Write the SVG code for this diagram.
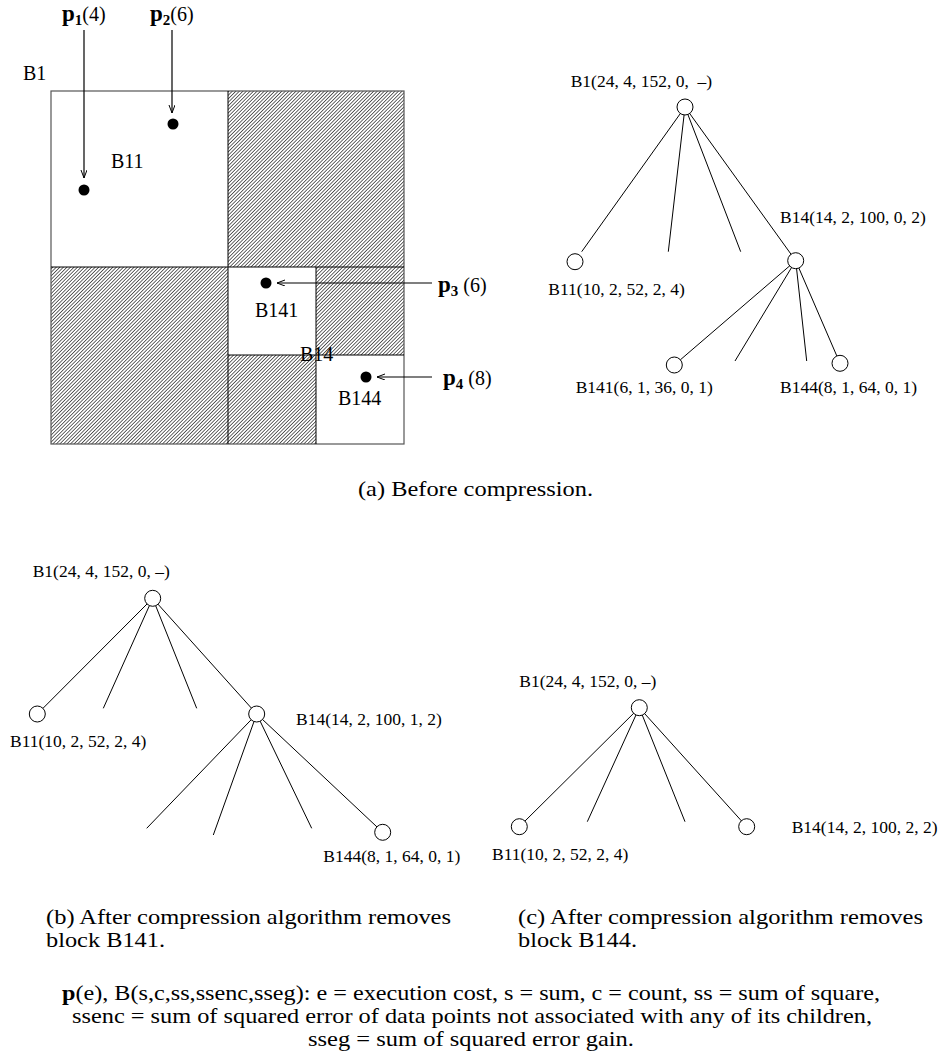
<svg xmlns="http://www.w3.org/2000/svg" width="941" height="1063" viewBox="0 0 941 1063">
<defs>
<pattern id="hatch" patternUnits="userSpaceOnUse" width="2.5" height="10" patternTransform="rotate(45)">
<rect width="2.5" height="10" fill="#fff"/>
<line x1="1.25" y1="0" x2="1.25" y2="10" stroke="#4a4a4a" stroke-width="0.85"/>
</pattern>
<marker id="arr" markerUnits="userSpaceOnUse" markerWidth="10" markerHeight="8" refX="8" refY="3" orient="auto">
<path d="M0,0 L8,3 L0,6" fill="none" stroke="#000" stroke-width="1"/>
</marker>
</defs>
<style>
.lbl{font-family:"Liberation Serif","Times New Roman",serif;font-size:20px;fill:#000}
.tl{font-family:"Liberation Serif","Times New Roman",serif;font-size:17.5px;fill:#000}
.cap{font-family:"Liberation Serif","Times New Roman",serif;font-size:21px;fill:#000}
.edge{stroke:#000;stroke-width:1;fill:none}
.node{stroke:#000;stroke-width:1;fill:#fff}
.arrow{stroke:#000;stroke-width:1.2;fill:none;marker-end:url(#arr)}
.dot{fill:#000}
.hat{fill:url(#hatch);stroke:none}
.grid{stroke:#000;stroke-width:1;fill:none}
</style>
<rect width="941" height="1063" fill="#fff"/>

<!-- (a) spatial decomposition -->
<g id="grid">
<rect class="hat" x="228" y="91" width="176" height="176"/>
<rect class="hat" x="51" y="267" width="177" height="177"/>
<rect class="hat" x="316" y="267" width="88" height="88"/>
<rect class="hat" x="228" y="355" width="88" height="89"/>
<rect x="51" y="91" width="353" height="353" fill="none" stroke="#555" stroke-width="1.2"/>
<line class="grid" x1="228" y1="91" x2="228" y2="444"/>
<line class="grid" x1="51" y1="267" x2="404" y2="267"/>
<line class="grid" x1="316" y1="267" x2="316" y2="444"/>
<line class="grid" x1="228" y1="355" x2="404" y2="355"/>
</g>
<g id="block-B1"><text class="lbl" x="23" y="80">B1</text></g>
<g id="block-B11"><text class="lbl" x="111" y="168">B11</text></g>
<g id="block-B141"><text class="lbl" x="255" y="317">B141</text></g>
<g id="block-B14"><text class="lbl" x="300" y="361">B14</text></g>
<g id="block-B144"><text class="lbl" x="338" y="405">B144</text></g>

<g id="point-p1">
<circle class="dot" cx="84" cy="190" r="5.5"/>
<text class="lbl" x="62" y="21"><tspan font-weight="bold" font-size="23">p</tspan><tspan font-weight="bold" font-size="15" dy="4">1</tspan><tspan dy="-4">(4)</tspan></text>
</g>
<g id="point-p2">
<circle class="dot" cx="173" cy="124" r="5.5"/>
<text class="lbl" x="150" y="21"><tspan font-weight="bold" font-size="23">p</tspan><tspan font-weight="bold" font-size="15" dy="4">2</tspan><tspan dy="-4">(6)</tspan></text>
</g>
<g id="point-p3">
<circle class="dot" cx="266" cy="283" r="5.5"/>
<text class="lbl" x="438" y="292"><tspan font-weight="bold" font-size="23">p</tspan><tspan font-weight="bold" font-size="15" dy="4">3</tspan><tspan dy="-4"> (6)</tspan></text>
</g>
<g id="point-p4">
<circle class="dot" cx="366" cy="377" r="5.5"/>
<text class="lbl" x="443" y="385"><tspan font-weight="bold" font-size="23">p</tspan><tspan font-weight="bold" font-size="15" dy="4">4</tspan><tspan dy="-4"> (8)</tspan></text>
</g>

<g id="connectors">
<line class="arrow" x1="84" y1="30" x2="84" y2="178"/>
<line class="arrow" x1="172" y1="30" x2="172" y2="113"/>
<line class="arrow" x1="432" y1="283" x2="277" y2="283"/>
<line class="arrow" x1="432" y1="377" x2="377" y2="377"/>
<!-- tree a -->
<line class="edge" x1="685" y1="107" x2="581.7" y2="251.7"/>
<line class="edge" x1="685" y1="107" x2="668.3" y2="251.7"/>
<line class="edge" x1="685" y1="107" x2="740.7" y2="251.7"/>
<line class="edge" x1="685" y1="107" x2="795.7" y2="260.7"/>
<line class="edge" x1="795.7" y1="260.7" x2="674.3" y2="365"/>
<line class="edge" x1="795.7" y1="260.7" x2="735" y2="361"/>
<line class="edge" x1="795.7" y1="260.7" x2="806.7" y2="361"/>
<line class="edge" x1="795.7" y1="260.7" x2="840" y2="363.3"/>
<!-- tree b -->
<line class="edge" x1="152.7" y1="598.3" x2="37.3" y2="714"/>
<line class="edge" x1="152.7" y1="598.3" x2="103.3" y2="708.3"/>
<line class="edge" x1="152.7" y1="598.3" x2="196.7" y2="708.3"/>
<line class="edge" x1="152.7" y1="598.3" x2="256.7" y2="714"/>
<line class="edge" x1="256.7" y1="714" x2="146.7" y2="828.3"/>
<line class="edge" x1="256.7" y1="714" x2="213.3" y2="835"/>
<line class="edge" x1="256.7" y1="714" x2="311.7" y2="828.3"/>
<line class="edge" x1="256.7" y1="714" x2="382.7" y2="832.3"/>
<!-- tree c -->
<line class="edge" x1="639.3" y1="707.7" x2="519.3" y2="826.7"/>
<line class="edge" x1="639.3" y1="707.7" x2="587.3" y2="821.7"/>
<line class="edge" x1="639.3" y1="707.7" x2="685" y2="821.7"/>
<line class="edge" x1="639.3" y1="707.7" x2="746.7" y2="826.7"/>
</g>

<!-- tree a nodes -->
<g id="a-B1"><circle class="node" cx="685" cy="107" r="8"/><text class="tl" x="570.7" y="86.7" xml:space="preserve">B1(24, 4, 152, 0,  –)</text></g>
<g id="a-B11"><circle class="node" cx="575" cy="261.7" r="8"/><text class="tl" x="548.3" y="295">B11(10, 2, 52, 2, 4)</text></g>
<g id="a-B14"><circle class="node" cx="795.7" cy="260.7" r="8"/><text class="tl" x="780" y="223.3">B14(14, 2, 100, 0, 2)</text></g>
<g id="a-B141"><circle class="node" cx="674.3" cy="365" r="8"/><text class="tl" x="575.7" y="393.3">B141(6, 1, 36, 0, 1)</text></g>
<g id="a-B144"><circle class="node" cx="840" cy="363.3" r="8"/><text class="tl" x="780" y="393.3">B144(8, 1, 64, 0, 1)</text></g>

<!-- tree b nodes -->
<g id="b-B1"><circle class="node" cx="152.7" cy="598.3" r="8"/><text class="tl" x="32.7" y="577.3">B1(24, 4, 152, 0, –)</text></g>
<g id="b-B11"><circle class="node" cx="37.3" cy="714" r="8"/><text class="tl" x="10" y="746.7">B11(10, 2, 52, 2, 4)</text></g>
<g id="b-B14"><circle class="node" cx="256.7" cy="714" r="8"/><text class="tl" x="296" y="725">B14(14, 2, 100, 1, 2)</text></g>
<g id="b-B144"><circle class="node" cx="382.7" cy="832.3" r="8"/><text class="tl" x="323.3" y="861.7">B144(8, 1, 64, 0, 1)</text></g>

<!-- tree c nodes -->
<g id="c-B1"><circle class="node" cx="639.3" cy="707.7" r="8"/><text class="tl" x="519.3" y="686.7">B1(24, 4, 152, 0, –)</text></g>
<g id="c-B11"><circle class="node" cx="519.3" cy="826.7" r="8"/><text class="tl" x="492" y="860">B11(10, 2, 52, 2, 4)</text></g>
<g id="c-B14"><circle class="node" cx="746.7" cy="826.7" r="8"/><text class="tl" x="791.7" y="832.7">B14(14, 2, 100, 2, 2)</text></g>

<!-- captions -->
<g id="captions">
<text class="cap" x="358" y="496" textLength="235" lengthAdjust="spacingAndGlyphs">(a) Before compression.</text>
<text class="cap" x="46" y="924" textLength="405" lengthAdjust="spacingAndGlyphs">(b) After compression algorithm removes</text>
<text class="cap" x="46" y="947" textLength="119" lengthAdjust="spacingAndGlyphs">block B141.</text>
<text class="cap" x="518" y="924" textLength="405" lengthAdjust="spacingAndGlyphs">(c) After compression algorithm removes</text>
<text class="cap" x="518" y="947" textLength="119" lengthAdjust="spacingAndGlyphs">block B144.</text>
<text class="cap" x="62" y="1000" textLength="818" lengthAdjust="spacingAndGlyphs"><tspan font-weight="bold">p</tspan>(e), B(s,c,ss,ssenc,sseg): e = execution cost, s = sum, c = count, ss = sum of square,</text>
<text class="cap" x="72" y="1023" textLength="800" lengthAdjust="spacingAndGlyphs">ssenc = sum of squared error of data points not associated with any of its children,</text>
<text class="cap" x="308" y="1046" textLength="326" lengthAdjust="spacingAndGlyphs">sseg = sum of squared error gain.</text>
</g>
</svg>
